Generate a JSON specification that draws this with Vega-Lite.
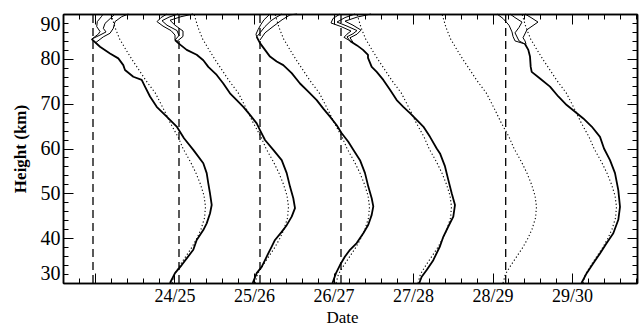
{
  "$schema": "https://vega.github.io/schema/vega-lite/v6.json",
  "width": 574,
  "height": 269,
  "autosize": {"type": "none"},
  "padding": {"left": 63, "top": 14, "right": 2, "bottom": 44},
  "background": "white",
  "config": {
    "view": {"stroke": null},
    "axis": {"grid": false, "domainColor": "black", "tickColor": "black", "labelColor": "black", "titleColor": "black", "labelFont": "Liberation Serif", "titleFont": "Liberation Serif", "domainWidth": 1.5, "tickWidth": 1}
  },
  "datasets": {
    "thick": [
      {"s":"A","T":-3.3,"h":84.4},{"s":"A","T":5,"h":82.7},{"s":"A","T":15,"h":81.2},{"s":"A","T":23.3,"h":80.1},{"s":"A","T":28.3,"h":78.6},{"s":"A","T":30,"h":77.5},{"s":"A","T":38.3,"h":76},{"s":"A","T":46.7,"h":75.3},{"s":"A","T":50,"h":73.8},{"s":"A","T":55,"h":71.6},{"s":"A","T":61.7,"h":69.3},{"s":"A","T":71.7,"h":67.1},{"s":"A","T":81.7,"h":64.9},{"s":"A","T":89,"h":62.3},{"s":"A","T":98.3,"h":59.7},{"s":"A","T":108.3,"h":56.7},{"s":"A","T":111.7,"h":54.5},{"s":"A","T":113.3,"h":52.2},{"s":"A","T":115,"h":50},{"s":"A","T":116.7,"h":47.4},{"s":"A","T":115,"h":45.5},{"s":"A","T":111.7,"h":43.3},{"s":"A","T":108.3,"h":41.8},{"s":"A","T":101.7,"h":39.6},{"s":"A","T":98.3,"h":37.4},{"s":"A","T":91.7,"h":35.5},{"s":"A","T":86.7,"h":34},{"s":"A","T":80,"h":32.2},{"s":"A","T":75,"h":30},
      {"s":"B","T":80,"h":84.2},{"s":"B","T":83.3,"h":83.5},{"s":"B","T":91.7,"h":82},{"s":"B","T":101.7,"h":80.9},{"s":"B","T":108.3,"h":79.7},{"s":"B","T":113.3,"h":78.2},{"s":"B","T":121.7,"h":76.4},{"s":"B","T":128.3,"h":74.5},{"s":"B","T":135,"h":72.3},{"s":"B","T":141.7,"h":70.8},{"s":"B","T":148.3,"h":69.3},{"s":"B","T":155,"h":67.5},{"s":"B","T":161.7,"h":65.6},{"s":"B","T":165,"h":64.1},{"s":"B","T":170,"h":61.9},{"s":"B","T":178.3,"h":59.7},{"s":"B","T":186.7,"h":57.4},{"s":"B","T":191.7,"h":54.5},{"s":"B","T":195,"h":51.5},{"s":"B","T":198.3,"h":48.9},{"s":"B","T":200,"h":46.7},{"s":"B","T":196.7,"h":44.8},{"s":"B","T":191.7,"h":42.9},{"s":"B","T":186.7,"h":41.4},{"s":"B","T":180,"h":39.6},{"s":"B","T":176.7,"h":38.1},{"s":"B","T":171.7,"h":35.9},{"s":"B","T":166.7,"h":33.6},{"s":"B","T":161.7,"h":32.2},{"s":"B","T":157.7,"h":30},
      {"s":"C","T":161.7,"h":84.9},{"s":"C","T":165,"h":83.5},{"s":"C","T":170,"h":82},{"s":"C","T":175,"h":80.5},{"s":"C","T":181.7,"h":79.4},{"s":"C","T":188.3,"h":78.6},{"s":"C","T":196.7,"h":76.8},{"s":"C","T":205,"h":74.5},{"s":"C","T":213.3,"h":72.7},{"s":"C","T":221.7,"h":70.8},{"s":"C","T":228.3,"h":68.9},{"s":"C","T":235,"h":67.1},{"s":"C","T":241.7,"h":65.2},{"s":"C","T":246.7,"h":63.4},{"s":"C","T":253.3,"h":61.5},{"s":"C","T":258.3,"h":59.7},{"s":"C","T":265,"h":57.4},{"s":"C","T":270,"h":54.5},{"s":"C","T":273.3,"h":51.5},{"s":"C","T":276.7,"h":48.9},{"s":"C","T":278.3,"h":47.1},{"s":"C","T":276.7,"h":45.2},{"s":"C","T":273.3,"h":43},{"s":"C","T":268.3,"h":41.1},{"s":"C","T":261.7,"h":38.9},{"s":"C","T":255,"h":37.4},{"s":"C","T":250,"h":35.9},{"s":"C","T":245,"h":34},{"s":"C","T":241,"h":32.2},{"s":"C","T":237.5,"h":30},
      {"s":"D","T":255,"h":84},{"s":"D","T":262,"h":83},{"s":"D","T":268,"h":82},{"s":"D","T":273,"h":80.9},{"s":"D","T":273,"h":80.2},{"s":"D","T":276.7,"h":78.2},{"s":"D","T":281.7,"h":77.1},{"s":"D","T":288.3,"h":75.3},{"s":"D","T":295,"h":73.1},{"s":"D","T":301.7,"h":70.8},{"s":"D","T":308.3,"h":69.3},{"s":"D","T":315,"h":67.9},{"s":"D","T":321.7,"h":66.4},{"s":"D","T":328.3,"h":64.9},{"s":"D","T":335,"h":62.6},{"s":"D","T":341.7,"h":60},{"s":"D","T":345,"h":58.9},{"s":"D","T":350,"h":56},{"s":"D","T":353.3,"h":53},{"s":"D","T":356.7,"h":50},{"s":"D","T":360,"h":47.4},{"s":"D","T":358.3,"h":44.8},{"s":"D","T":353.3,"h":42.6},{"s":"D","T":348.3,"h":40.3},{"s":"D","T":345,"h":38.2},{"s":"D","T":338.3,"h":35.1},{"s":"D","T":331.7,"h":32.9},{"s":"D","T":326.7,"h":31.4},{"s":"D","T":324.3,"h":30},
      {"s":"F","T":430,"h":83.3},{"s":"F","T":433.3,"h":82},{"s":"F","T":435,"h":80.5},{"s":"F","T":435.7,"h":78.2},{"s":"F","T":436.7,"h":77.1},{"s":"F","T":445,"h":75.6},{"s":"F","T":455,"h":73.8},{"s":"F","T":463.3,"h":71.6},{"s":"F","T":471.7,"h":69.7},{"s":"F","T":480,"h":68.2},{"s":"F","T":488.3,"h":66.7},{"s":"F","T":496.7,"h":64.9},{"s":"F","T":505,"h":62.6},{"s":"F","T":509,"h":60},{"s":"F","T":515,"h":57.4},{"s":"F","T":520,"h":54.5},{"s":"F","T":523.3,"h":50.7},{"s":"F","T":525,"h":47},{"s":"F","T":523.3,"h":44.1},{"s":"F","T":518.3,"h":41.1},{"s":"F","T":511.7,"h":38.9},{"s":"F","T":505,"h":36.6},{"s":"F","T":498.3,"h":34.4},{"s":"F","T":491.7,"h":32.2},{"s":"F","T":486.5,"h":30}
    ],
    "thin": [
      {"s":"A1","T":-3.3,"h":84.4},{"s":"A1","T":3.3,"h":85.5},{"s":"A1","T":5,"h":86.1},{"s":"A1","T":1.7,"h":87.2},{"s":"A1","T":2.3,"h":88.3},{"s":"A1","T":6.7,"h":89.5},{"s":"A1","T":8,"h":90},
      {"s":"A2","T":-3.3,"h":84.4},{"s":"A2","T":5,"h":85.3},{"s":"A2","T":11,"h":86},{"s":"A2","T":8.3,"h":86.8},{"s":"A2","T":10,"h":87.9},{"s":"A2","T":16.7,"h":89.3},{"s":"A2","T":20,"h":90},
      {"s":"A3","T":0.6,"h":83.6},{"s":"A3","T":8.3,"h":84.9},{"s":"A3","T":15,"h":85.7},{"s":"A3","T":18.3,"h":86.8},{"s":"A3","T":20,"h":88.3},{"s":"A3","T":26.7,"h":89.4},{"s":"A3","T":33.3,"h":90},
      {"s":"B1","T":80,"h":84.2},{"s":"B1","T":80,"h":85.3},{"s":"B1","T":76,"h":86.3},{"s":"B1","T":68,"h":87.3},{"s":"B1","T":62,"h":88.3},{"s":"B1","T":66,"h":89.2},{"s":"B1","T":72,"h":90},
      {"s":"B2","T":80,"h":84.2},{"s":"B2","T":84,"h":85.2},{"s":"B2","T":82,"h":86.3},{"s":"B2","T":72,"h":87.5},{"s":"B2","T":67,"h":88.5},{"s":"B2","T":74,"h":89.3},{"s":"B2","T":83,"h":90},
      {"s":"B3","T":82,"h":83.9},{"s":"B3","T":88,"h":85},{"s":"B3","T":88,"h":86.2},{"s":"B3","T":80,"h":87.5},{"s":"B3","T":75,"h":88.6},{"s":"B3","T":86,"h":89.4},{"s":"B3","T":98,"h":90},
      {"s":"C1","T":161.7,"h":84.9},{"s":"C1","T":161,"h":85.5},{"s":"C1","T":163,"h":86.5},{"s":"C1","T":166,"h":87.7},{"s":"C1","T":169,"h":88.7},{"s":"C1","T":175,"h":90},
      {"s":"C2","T":161.7,"h":84.9},{"s":"C2","T":165,"h":85.8},{"s":"C2","T":170,"h":87.2},{"s":"C2","T":176,"h":88.5},{"s":"C2","T":180,"h":89.1},{"s":"C2","T":187,"h":90},
      {"s":"C3","T":165,"h":84.2},{"s":"C3","T":170,"h":85.8},{"s":"C3","T":178,"h":87.2},{"s":"C3","T":187,"h":88.7},{"s":"C3","T":195,"h":89.8},{"s":"C3","T":202,"h":90},
      {"s":"D1","T":255,"h":84},{"s":"D1","T":249,"h":84.8},{"s":"D1","T":252,"h":85.5},{"s":"D1","T":256,"h":86.2},{"s":"D1","T":246,"h":87.2},{"s":"D1","T":236,"h":88},{"s":"D1","T":238,"h":89},{"s":"D1","T":245,"h":90},
      {"s":"D2","T":255,"h":84},{"s":"D2","T":252,"h":84.9},{"s":"D2","T":258,"h":85.6},{"s":"D2","T":262,"h":86.3},{"s":"D2","T":252,"h":87.3},{"s":"D2","T":242,"h":88.2},{"s":"D2","T":250,"h":89.2},{"s":"D2","T":260,"h":90},
      {"s":"D3","T":258,"h":83.7},{"s":"D3","T":255,"h":84.7},{"s":"D3","T":262,"h":85.5},{"s":"D3","T":266,"h":86.4},{"s":"D3","T":258,"h":87.5},{"s":"D3","T":250,"h":88.4},{"s":"D3","T":262,"h":89.3},{"s":"D3","T":276,"h":90},
      {"s":"F1","T":430,"h":83.3},{"s":"F1","T":420,"h":84},{"s":"F1","T":418,"h":85},{"s":"F1","T":417,"h":86},{"s":"F1","T":414,"h":87.5},{"s":"F1","T":408,"h":89},{"s":"F1","T":402,"h":90},
      {"s":"F2","T":430,"h":83.3},{"s":"F2","T":424,"h":84},{"s":"F2","T":420,"h":85.8},{"s":"F2","T":424,"h":87},{"s":"F2","T":427,"h":88.2},{"s":"F2","T":420,"h":89.2},{"s":"F2","T":415,"h":90},
      {"s":"F3","T":431,"h":83.3},{"s":"F3","T":430,"h":84},{"s":"F3","T":428,"h":84.7},{"s":"F3","T":432,"h":86.5},{"s":"F3","T":443,"h":88.2},{"s":"F3","T":436,"h":89.2},{"s":"F3","T":430,"h":90}
    ],
    "model": [
      {"s":"A","h":90,"T":16},{"s":"A","h":87,"T":20},{"s":"A","h":84.5,"T":24.5},{"s":"A","h":82,"T":31},{"s":"A","h":79.5,"T":38},{"s":"A","h":77.5,"T":44},{"s":"A","h":75.3,"T":50.5},{"s":"A","h":72.3,"T":60.5},{"s":"A","h":68.6,"T":69},{"s":"A","h":65.6,"T":75.5},{"s":"A","h":62.6,"T":83},{"s":"A","h":60,"T":88},{"s":"A","h":57,"T":95.5},{"s":"A","h":54.5,"T":101},{"s":"A","h":52,"T":105.5},{"s":"A","h":49.5,"T":109},{"s":"A","h":47,"T":110.5},{"s":"A","h":44.5,"T":109.5},{"s":"A","h":42,"T":106},{"s":"A","h":40,"T":102},{"s":"A","h":38,"T":97},{"s":"A","h":36,"T":91},{"s":"A","h":34,"T":85},{"s":"A","h":32,"T":79.5},{"s":"A","h":30,"T":77},
      {"s":"B","h":90,"T":99},{"s":"B","h":87,"T":103},{"s":"B","h":84.5,"T":107.5},{"s":"B","h":82,"T":114},{"s":"B","h":79.5,"T":121},{"s":"B","h":77.5,"T":127},{"s":"B","h":75.3,"T":133.5},{"s":"B","h":72.3,"T":143.5},{"s":"B","h":68.6,"T":152},{"s":"B","h":65.6,"T":158.5},{"s":"B","h":62.6,"T":166},{"s":"B","h":60,"T":171},{"s":"B","h":57,"T":178.5},{"s":"B","h":54.5,"T":184},{"s":"B","h":52,"T":188.5},{"s":"B","h":49.5,"T":192},{"s":"B","h":47,"T":193.5},{"s":"B","h":44.5,"T":192.5},{"s":"B","h":42,"T":189},{"s":"B","h":40,"T":185},{"s":"B","h":38,"T":180},{"s":"B","h":36,"T":174},{"s":"B","h":34,"T":168},{"s":"B","h":32,"T":162.5},{"s":"B","h":30,"T":160},
      {"s":"C","h":90,"T":180},{"s":"C","h":87,"T":184},{"s":"C","h":84.5,"T":188.5},{"s":"C","h":82,"T":195},{"s":"C","h":79.5,"T":202},{"s":"C","h":77.5,"T":208},{"s":"C","h":75.3,"T":214.5},{"s":"C","h":72.3,"T":224.5},{"s":"C","h":68.6,"T":233},{"s":"C","h":65.6,"T":239.5},{"s":"C","h":62.6,"T":247},{"s":"C","h":60,"T":252},{"s":"C","h":57,"T":259.5},{"s":"C","h":54.5,"T":265},{"s":"C","h":52,"T":269.5},{"s":"C","h":49.5,"T":273},{"s":"C","h":47,"T":274.5},{"s":"C","h":44.5,"T":273.5},{"s":"C","h":42,"T":270},{"s":"C","h":40,"T":266},{"s":"C","h":38,"T":261},{"s":"C","h":36,"T":255},{"s":"C","h":34,"T":249},{"s":"C","h":32,"T":243.5},{"s":"C","h":30,"T":241},
      {"s":"D","h":90,"T":262},{"s":"D","h":87,"T":266},{"s":"D","h":84.5,"T":270.5},{"s":"D","h":82,"T":277},{"s":"D","h":79.5,"T":284},{"s":"D","h":77.5,"T":290},{"s":"D","h":75.3,"T":296.5},{"s":"D","h":72.3,"T":306.5},{"s":"D","h":68.6,"T":315},{"s":"D","h":65.6,"T":321.5},{"s":"D","h":62.6,"T":329},{"s":"D","h":60,"T":334},{"s":"D","h":57,"T":341.5},{"s":"D","h":54.5,"T":347},{"s":"D","h":52,"T":351.5},{"s":"D","h":49.5,"T":355},{"s":"D","h":47,"T":356.5},{"s":"D","h":44.5,"T":355.5},{"s":"D","h":42,"T":352},{"s":"D","h":40,"T":348},{"s":"D","h":38,"T":343},{"s":"D","h":36,"T":337},{"s":"D","h":34,"T":331},{"s":"D","h":32,"T":325.5},{"s":"D","h":30,"T":323},
      {"s":"E","h":90,"T":347},{"s":"E","h":87,"T":351},{"s":"E","h":84.5,"T":355.5},{"s":"E","h":82,"T":362},{"s":"E","h":79.5,"T":369},{"s":"E","h":77.5,"T":375},{"s":"E","h":75.3,"T":381.5},{"s":"E","h":72.3,"T":391.5},{"s":"E","h":68.6,"T":400},{"s":"E","h":65.6,"T":406.5},{"s":"E","h":62.6,"T":414},{"s":"E","h":60,"T":419},{"s":"E","h":57,"T":426.5},{"s":"E","h":54.5,"T":432},{"s":"E","h":52,"T":436.5},{"s":"E","h":49.5,"T":440},{"s":"E","h":47,"T":441.5},{"s":"E","h":44.5,"T":440.5},{"s":"E","h":42,"T":437},{"s":"E","h":40,"T":433},{"s":"E","h":38,"T":428},{"s":"E","h":36,"T":422},{"s":"E","h":34,"T":416},{"s":"E","h":32,"T":410.5},{"s":"E","h":30,"T":408},
      {"s":"F","h":90,"T":427},{"s":"F","h":87,"T":431},{"s":"F","h":84.5,"T":435.5},{"s":"F","h":82,"T":442},{"s":"F","h":79.5,"T":449},{"s":"F","h":77.5,"T":455},{"s":"F","h":75.3,"T":461.5},{"s":"F","h":72.3,"T":471.5},{"s":"F","h":68.6,"T":480},{"s":"F","h":65.6,"T":486.5},{"s":"F","h":62.6,"T":494},{"s":"F","h":60,"T":499},{"s":"F","h":57,"T":506.5},{"s":"F","h":54.5,"T":512},{"s":"F","h":52,"T":516.5},{"s":"F","h":49.5,"T":520},{"s":"F","h":47,"T":521.5},{"s":"F","h":44.5,"T":520.5},{"s":"F","h":42,"T":517},{"s":"F","h":40,"T":513},{"s":"F","h":38,"T":508},{"s":"F","h":36,"T":502},{"s":"F","h":34,"T":496},{"s":"F","h":32,"T":490.5},{"s":"F","h":30,"T":488}
    ],
    "ref": [
      {"s":"A","T":-2},{"s":"B","T":84},{"s":"C","T":165},{"s":"D","T":246},{"s":"E","T":410.7}
    ]
  },
  "resolve": {"axis": {"x": "independent", "y": "independent"}},
  "layer": [
    {
      "data": {"name": "thick"},
      "mark": {"type": "line", "color": "black", "strokeWidth": 1.8, "strokeJoin": "round"},
      "encoding": {
        "x": {"field": "T", "type": "quantitative", "scale": {"domain": [-32, 542], "nice": false, "zero": false},
          "axis": {"orient": "bottom", "values": [0, 79.5, 159, 238.5, 318, 397.5, 477], "tickSize": -10, "labelPadding": 14, "labelFontSize": 18, "labelFlush": false, "labelOverlap": false,
            "labelExpr": "round(datum.value/79.5) < 1 ? '' : (23 + round(datum.value/79.5)) + '/' + (24 + round(datum.value/79.5))",
            "title": "Date", "titleFontSize": 17, "titleFontWeight": "normal", "titleX": 279, "titleY": 39, "titleBaseline": "alphabetic"}},
        "y": {"field": "h", "type": "quantitative", "scale": {"domain": [30, 90], "nice": false, "zero": false},
          "axis": {"orient": "left", "values": [30, 40, 50, 60, 70, 80, 90], "tickSize": -10, "labelPadding": 13, "labelFontSize": 20, "labelFlush": true,
            "title": "Height (km)", "titleFontSize": 17, "titleFontWeight": "bold", "titleX": -43, "titleY": 134.5, "titleAngle": -90, "titleBaseline": "middle", "titleAlign": "center"}},
        "detail": {"field": "s"},
        "order": {"field": "h"}
      }
    },
    {
      "data": {"name": "thin"},
      "mark": {"type": "line", "color": "black", "strokeWidth": 1},
      "encoding": {
        "x": {"field": "T", "type": "quantitative", "scale": {"domain": [-32, 542], "nice": false, "zero": false},
          "axis": {"orient": "bottom", "values": [-31.8, -15.9, 15.9, 31.8, 47.7, 63.6, 95.4, 111.3, 127.2, 143.1, 174.9, 190.8, 206.7, 222.6, 254.4, 270.3, 286.2, 302.1, 333.9, 349.8, 365.7, 381.6, 413.4, 429.3, 445.2, 461.1, 492.9, 508.8, 524.7, 540.6], "tickSize": -5, "labels": false, "title": null}},
        "y": {"field": "h", "type": "quantitative", "scale": {"domain": [30, 90], "nice": false, "zero": false},
          "axis": {"orient": "left", "values": [32, 34, 36, 38, 42, 44, 46, 48, 52, 54, 56, 58, 62, 64, 66, 68, 72, 74, 76, 78, 82, 84, 86, 88], "tickSize": -5, "labels": false, "title": null}},
        "detail": {"field": "s"},
        "order": {"field": "h"}
      }
    },
    {
      "data": {"name": "model"},
      "mark": {"type": "line", "color": "black", "strokeWidth": 1.1, "strokeDash": [1.2, 2.4]},
      "encoding": {
        "x": {"field": "T", "type": "quantitative", "scale": {"domain": [-32, 542], "nice": false, "zero": false},
          "axis": {"orient": "top", "values": [0, 79.5, 159, 238.5, 318, 397.5, 477], "tickSize": -10, "labels": false, "title": null}},
        "y": {"field": "h", "type": "quantitative", "scale": {"domain": [30, 90], "nice": false, "zero": false},
          "axis": {"orient": "right", "values": [30, 40, 50, 60, 70, 80, 90], "tickSize": -10, "labels": false, "title": null}},
        "detail": {"field": "s"},
        "order": {"field": "h"}
      }
    },
    {
      "data": {"name": "ref"},
      "mark": {"type": "rule", "color": "black", "strokeWidth": 1.3, "strokeDash": [8, 5]},
      "encoding": {
        "x": {"field": "T", "type": "quantitative", "scale": {"domain": [-32, 542], "nice": false, "zero": false},
          "axis": {"orient": "top", "values": [-31.8, -15.9, 15.9, 31.8, 47.7, 63.6, 95.4, 111.3, 127.2, 143.1, 174.9, 190.8, 206.7, 222.6, 254.4, 270.3, 286.2, 302.1, 333.9, 349.8, 365.7, 381.6, 413.4, 429.3, 445.2, 461.1, 492.9, 508.8, 524.7, 540.6], "tickSize": -5, "labels": false, "title": null}},
        "y": {"datum": 30, "type": "quantitative", "scale": {"domain": [30, 90], "nice": false, "zero": false},
          "axis": {"orient": "right", "values": [32, 34, 36, 38, 42, 44, 46, 48, 52, 54, 56, 58, 62, 64, 66, 68, 72, 74, 76, 78, 82, 84, 86, 88], "tickSize": -5, "labels": false, "title": null}},
        "y2": {"datum": 90}
      }
    }
  ]
}
